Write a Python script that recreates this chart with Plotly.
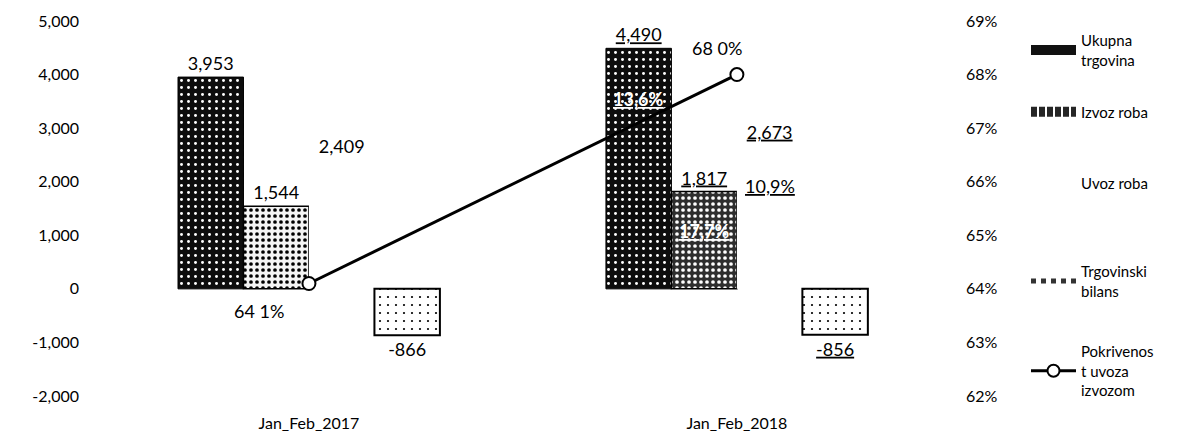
import plotly.graph_objects as go

categories = ["Jan_Feb_2017", "Jan_Feb_2018"]
ukupna = [3953, 4490]
izvoz = [1544, 1817]
uvoz = [2409, 2673]
bilans = [-866, -856]
pokrivenost = [64.1, 68.0]
pokrivenost_labels = ["64 1%", "68 0%"]
underline = [False, True]
growth_ukupna = [None, "13,6%"]
growth_izvoz = [None, "17,7%"]
growth_uvoz = [None, "10,9%"]
left_ticks = [-2000, -1000, 0, 1000, 2000, 3000, 4000, 5000]
left_tick_text = ["-2,000", "-1,000", "0", "1,000", "2,000", "3,000", "4,000", "5,000"]
right_ticks = [62, 63, 64, 65, 66, 67, 68, 69]
right_tick_text = ["62%", "63%", "64%", "65%", "66%", "67%", "68%", "69%"]

FONT = "Lato"
W, H = 1191, 436
ML, MR, MT, MB = 80, 226, 21, 40
BARGAP = 0.388


def lab(vals):
    out = []
    for v, u in zip(vals, underline):
        s = f"{v:,}"
        out.append(f"<u>{s}</u>" if u else s)
    return out


fig = go.Figure()
fig.add_trace(go.Bar(
    x=categories, y=ukupna, showlegend=False,
    text=lab(ukupna), textposition="outside", cliponaxis=False,
    marker=dict(color="black", line=dict(color="black", width=1),
                pattern=dict(shape=".", bgcolor="#0d0d0d", fgcolor="white",
                             size=7, solidity=0.14, fillmode="replace")),
))
fig.add_trace(go.Bar(
    x=categories, y=izvoz, showlegend=False,
    text=lab(izvoz), textposition="outside", cliponaxis=False,
    marker=dict(color="white", line=dict(color="black", width=1.5),
                pattern=dict(shape=".", bgcolor=["#f4f4f4", "#2e2e2e"],
                             fgcolor=["black", "white"], size=6, solidity=0.3,
                             fillmode="replace")),
))
fig.add_trace(go.Bar(
    x=categories, y=uvoz, showlegend=False,
    text=lab(uvoz), textposition="outside", cliponaxis=False,
    marker=dict(color="white", line=dict(color="white", width=0)),
))
fig.add_trace(go.Bar(
    x=categories, y=bilans, showlegend=False,
    text=lab(bilans), textposition="outside", cliponaxis=False,
    marker=dict(color="white", line=dict(color="black", width=2),
                pattern=dict(shape=".", bgcolor="white", fgcolor="black",
                             size=8, solidity=0.06, fillmode="replace")),
))
fig.add_trace(go.Scatter(
    x=categories, y=pokrivenost, yaxis="y2", showlegend=False,
    mode="lines+markers", cliponaxis=False,
    line=dict(color="black", width=3),
    marker=dict(symbol="circle", size=13, color="white",
                line=dict(color="black", width=2)),
))

fig.update_traces(selector=dict(type="bar"),
                  textfont=dict(family=FONT, size=18, color="black"))

# legend-only entries (symbols styled like the original legend keys)
legend_entries = [
    ("Ukupna<br>trgovina", "legend", dict(color="#111111", width=10), None),
    ("Izvoz roba", "legend2", dict(color="#262626", width=10, dash="6px,2px"), None),
    ("Uvoz roba", "legend3", dict(color="white", width=0), None),
    ("Trgovinski<br>bilans", "legend4", dict(color="#333333", width=5, dash="5px,5px"), None),
    ("Pokrivenos<br>t uvoza<br>izvozom", "legend5", dict(color="black", width=3),
     dict(symbol="circle", size=12, color="white", line=dict(color="black", width=2))),
]
for name, leg, line, marker in legend_entries:
    fig.add_trace(go.Scatter(
        x=[None], y=[None], name=name, legend=leg,
        mode="lines+markers" if marker else "lines",
        line=line, marker=marker, hoverinfo="skip",
    ))

# growth annotations placed inside bars (2018)
bw = (1 - BARGAP) / 4
annotations = []
for series_idx, (gvals, vals, col, bold, shift) in enumerate([
        (growth_ukupna, ukupna, "white", True, -38),
        (growth_izvoz, izvoz, "white", True, -26),
        (growth_uvoz, uvoz, "black", False, -27)]):
    for ci, g in enumerate(gvals):
        if g is None:
            continue
        txt = f"<u>{g}</u>"
        if bold:
            txt = f"<b>{txt}</b>"
        annotations.append(dict(
            x=ci + (series_idx - 1.5) * bw, y=vals[ci], xref="x", yref="y",
            text=txt, showarrow=False, yanchor="top", yshift=shift,
            font=dict(family=FONT, size=18, color=col)))

# coverage line labels
for ci, (v, t, dx, dy) in enumerate(zip(pokrivenost, pokrivenost_labels,
                                        [-50, -20], [-27, 27])):
    annotations.append(dict(
        x=ci, y=v, xref="x", yref="y2", text=t, showarrow=False,
        xshift=dx, yshift=dy, font=dict(family=FONT, size=18, color="black")))

plot_h = H - MT - MB
plot_w = W - ML - MR


def py(p):
    return 1 - (p - MT) / plot_h


def px(p):
    return (p - ML) / plot_w


leg_common = dict(xanchor="left", yanchor="middle", bgcolor="rgba(0,0,0,0)",
                  font=dict(family=FONT, size=15, color="black"),
                  itemwidth=45, tracegroupgap=0)
fig.update_layout(
    width=W, height=H,
    margin=dict(l=ML, r=MR, t=MT, b=MB, autoexpand=False),
    plot_bgcolor="white", paper_bgcolor="white",
    barmode="group", bargap=BARGAP, bargroupgap=0,
    font=dict(family=FONT, size=16, color="black"),
    xaxis=dict(type="category", range=[-0.535, 1.533], showgrid=False,
               zeroline=False, showline=False, ticks="", automargin=False,
               ticklabelstandoff=16, tickfont=dict(family=FONT, size=16)),
    yaxis=dict(range=[-2000, 5000], tickvals=left_ticks, ticktext=left_tick_text,
               showgrid=False, zeroline=False, showline=False, automargin=False,
               tickfont=dict(family=FONT, size=16)),
    yaxis2=dict(range=[62, 69], tickvals=right_ticks, ticktext=right_tick_text,
                overlaying="y", side="right", automargin=False,
                showgrid=False, zeroline=False, showline=False,
                tickfont=dict(family=FONT, size=16)),
    showlegend=True,
    legend=dict(x=px(1026), y=py(50), **leg_common),
    legend2=dict(x=px(1026), y=py(112), **leg_common),
    legend3=dict(x=px(1026), y=py(183), **leg_common),
    legend4=dict(x=px(1026), y=py(281), **leg_common),
    legend5=dict(x=px(1026), y=py(371), **leg_common),
    annotations=annotations,
)

fig.write_html("out.html",
               config={"displayModeBar": False},
               post_script="document.body.style.margin='0';"
                           "document.body.style.padding='0';")
